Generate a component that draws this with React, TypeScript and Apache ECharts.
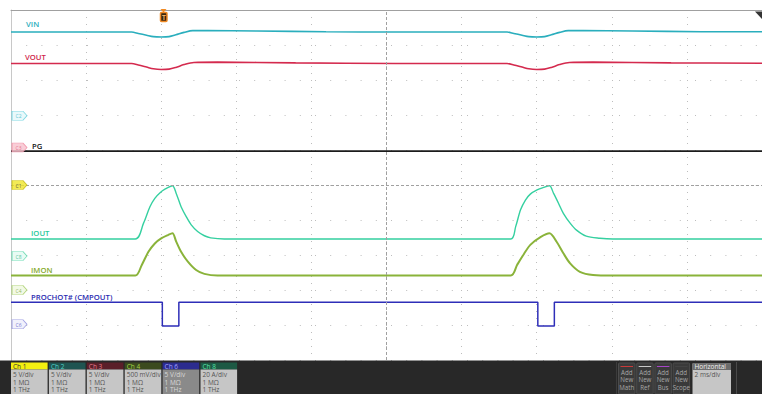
import React, { useEffect, useRef } from "react";
import * as echarts from "echarts";

// Time in ms (2 ms/div, trigger at t = 0); level in screen divisions (0 = bottom, 10 = top)
const VIN: [number, number][] = [
  [-4, 9.37], [-0.79, 9.37], [-0.61, 9.33], [-0.39, 9.28], [-0.21, 9.24], [0, 9.23], [0.21, 9.24],
  [0.39, 9.29], [0.61, 9.36], [0.84, 9.41], [1.24, 9.41], [2.55, 9.4], [4.39, 9.38], [6.24, 9.37],
  [9.21, 9.37], [9.39, 9.33], [9.61, 9.28], [9.79, 9.24], [10, 9.23], [10.21, 9.24], [10.39, 9.29],
  [10.61, 9.36], [10.84, 9.41], [11.24, 9.41], [12.55, 9.4], [14.39, 9.38], [16, 9.38],
];
const VOUT: [number, number][] = [
  [-4, 8.47], [-0.79, 8.47], [-0.61, 8.43], [-0.39, 8.37], [-0.21, 8.32], [0, 8.3], [0.21, 8.31],
  [0.39, 8.36], [0.61, 8.44], [0.87, 8.5], [1.5, 8.51], [3.58, 8.49], [6.24, 8.47],
  [9.21, 8.47], [9.39, 8.43], [9.61, 8.37], [9.79, 8.32], [10, 8.3], [10.21, 8.31], [10.39, 8.36],
  [10.61, 8.44], [10.87, 8.5], [11.5, 8.51], [13.58, 8.49], [16, 8.48],
];
const PG: [number, number][] = [[-4, 5.97], [16, 5.97]];
const IOUT: [number, number][] = [
  [-4, 3.457], [-0.69, 3.457], [-0.47, 3.91], [-0.3, 4.38], [-0.17, 4.62], [-0.03, 4.78], [0.1, 4.88],
  [0.3, 4.98], [0.4, 4.76], [0.53, 4.38], [0.67, 4.09], [0.8, 3.86], [0.97, 3.67], [1.15, 3.55],
  [1.32, 3.49], [1.68, 3.457],
  [9.31, 3.457], [9.44, 3.81], [9.57, 4.29], [9.7, 4.57], [9.83, 4.74], [10.01, 4.86], [10.18, 4.93],
  [10.34, 4.98], [10.45, 4.76], [10.58, 4.48], [10.71, 4.19], [10.89, 3.91], [11.06, 3.71],
  [11.32, 3.54], [11.68, 3.48], [12.03, 3.457], [16, 3.457],
];
const IMON: [number, number][] = [
  [-4, 2.414], [-0.69, 2.414], [-0.52, 2.71], [-0.34, 3.09], [-0.17, 3.33], [0.01, 3.48], [0.18, 3.57],
  [0.3, 3.62], [0.4, 3.38], [0.53, 3.09], [0.71, 2.81], [0.93, 2.57], [1.15, 2.46], [1.5, 2.414],
  [9.31, 2.414], [9.48, 2.72], [9.66, 3.03], [9.83, 3.29], [10.1, 3.51], [10.34, 3.62], [10.53, 3.38],
  [10.71, 3.05], [10.89, 2.76], [11.15, 2.52], [11.5, 2.43], [12.03, 2.414], [16, 2.414],
];
const PROCHOT: [number, number][] = [
  [-4, 1.65], [0.03, 1.65], [0.03, 0.97], [0.47, 0.97], [0.47, 1.65],
  [10.03, 1.65], [10.03, 0.97], [10.47, 0.97], [10.47, 1.65], [16, 1.65],
];

const MARKER_NAMES = ["C2", "C3", "C1", "C8", "C4", "C6"];
const MARKER_LEVELS = [6.98, 6.07, 5.0, 2.97, 2.0, 1.02];

const CH_NAMES = ["Ch 1", "Ch 2", "Ch 3", "Ch 4", "Ch 6", "Ch 8"];
const CH_SCALES = ["5 V/div", "5 V/div", "5 V/div", "500 mV/div", "5 V/div", "20 A/div"];
const CH_IMPEDANCE = ["1 MΩ", "1 MΩ", "1 MΩ", "1 MΩ", "1 MΩ", "1 MΩ"];
const CH_BANDWIDTH = ["1 THz", "1 THz", "1 THz", "1 THz", "1 THz", "1 THz"];
const ADD_BUTTONS = ["Math", "Ref", "Bus", "Scope"];
const HORIZONTAL_SCALE = "2 ms/div";

const FONT = "'Open Sans', 'Noto Sans', sans-serif";

const MARKER_STYLES = [
  { fill: "#e4f8fa", stroke: "#62d0dc", text: "#38b6c6" },
  { fill: "#f8c2cd", stroke: "#f08aa0", text: "#de5c78" },
  { fill: "#efe52a", stroke: "#c2b810", text: "#333333" },
  { fill: "#e4faf1", stroke: "#55d6a8", text: "#2fb486" },
  { fill: "#eff8df", stroke: "#a2cc62", text: "#7ea63e" },
  { fill: "#ededfb", stroke: "#8c8cdc", text: "#5050c0" },
];
const CH_STYLES = [
  { head: "#f3ef10", headText: "#333333", body: "#c6c6c6", bodyText: "#555555" },
  { head: "#1f5451", headText: "#52d2c8", body: "#c6c6c6", bodyText: "#555555" },
  { head: "#5a1f29", headText: "#e47a8a", body: "#c6c6c6", bodyText: "#555555" },
  { head: "#3b4a1f", headText: "#a4d245", body: "#c6c6c6", bodyText: "#555555" },
  { head: "#2c2c8e", headText: "#a0a0ff", body: "#8a8a8a", bodyText: "#d8d8d8" },
  { head: "#1d5944", headText: "#55e0a4", body: "#c6c6c6", bodyText: "#555555" },
];
const BTN_LINE = ["#c83a3a", "#c8c8c8", "#a646c8", "#444444"];

function lineSeries(name: string, data: [number, number][], color: string, width: number, smooth: number | boolean = false, z = 3) {
  return {
    name,
    type: "line",
    data,
    showSymbol: false,
    symbol: "none",
    silent: true,
    smooth,
    z,
    lineStyle: { color, width },
  };
}

export default function App() {
  const ref = useRef<HTMLDivElement>(null);
  useEffect(() => {
    if (!ref.current) return;
    const chart = echarts.init(ref.current, undefined, { renderer: "svg" });

    const g: any[] = [];
    // trace labels
    const labels = [
      { t: "VIN", x: 26, y: 24, c: "#2aaebd" },
      { t: "VOUT", x: 25, y: 57, c: "#d0264b" },
      { t: "PG", x: 32, y: 146, c: "#111111" },
      { t: "IOUT", x: 31, y: 233, c: "#29c99b" },
      { t: "IMON", x: 31, y: 269.5, c: "#86aa2c" },
      { t: "PROCHOT# (CMPOUT)", x: 31, y: 297, c: "#2b2bb0" },
    ];
    labels.forEach((l) =>
      g.push({
        type: "text", x: l.x, y: l.y, z: 20,
        style: { text: l.t, fill: l.c, fontSize: 7.7, fontWeight: 600, fontFamily: FONT, verticalAlign: "middle" },
      })
    );
    // trigger marker
    g.push({ type: "polygon", z: 20, shape: { points: [[160.5, 9], [166.5, 9], [163.5, 12.5]] }, style: { fill: "#f08a24" } });
    g.push({ type: "rect", z: 20, shape: { x: 160.5, y: 12.5, width: 6.5, height: 9, r: 1 }, style: { fill: "#3a2610", stroke: "#f08a24", lineWidth: 1.5 } });
    g.push({ type: "text", z: 21, x: 163.75, y: 17.2, style: { text: "T", fill: "#f3b060", fontSize: 6.5, fontWeight: "bold", fontFamily: FONT, align: "center", verticalAlign: "middle" } });
    // top-right corner wedge
    g.push({ type: "polygon", z: 20, shape: { points: [[755, 11.5], [762, 11.5], [762, 19]] }, style: { fill: "#333333" } });

    // bottom panel
    g.push({ type: "rect", z: 10, shape: { x: 0, y: 360.5, width: 762, height: 34 }, style: { fill: "#282828" } });
    CH_NAMES.forEach((name, i) => {
      const x = 11 + i * 37.9;
      const s = CH_STYLES[i];
      g.push({ type: "rect", z: 11, shape: { x, y: 362.5, width: 36.6, height: 7 }, style: { fill: s.head } });
      g.push({ type: "rect", z: 11, shape: { x, y: 369.5, width: 36.6, height: 25 }, style: { fill: s.body } });
      g.push({ type: "text", z: 12, x: x + 2, y: 366.2, style: { text: name, fill: s.headText, fontSize: 6.5, fontFamily: FONT, verticalAlign: "middle" } });
      [CH_SCALES[i], CH_IMPEDANCE[i], CH_BANDWIDTH[i]].forEach((t, j) =>
        g.push({ type: "text", z: 12, x: x + 2, y: 374.5 + j * 7.5, style: { text: t, fill: s.bodyText, fontSize: 6.5, fontFamily: FONT, verticalAlign: "middle" } })
      );
    });
    g.push({ type: "line", z: 11, shape: { x1: 616.5, y1: 362, x2: 616.5, y2: 394 }, style: { stroke: "#3c3c3c", lineWidth: 1 } });
    ADD_BUTTONS.forEach((b, i) => {
      const x = 618.5 + i * 18.2;
      g.push({ type: "rect", z: 11, shape: { x, y: 363, width: 16.5, height: 31, r: 1 }, style: { fill: "#3a3a3a", stroke: "#4c4c4c", lineWidth: 1 } });
      g.push({ type: "line", z: 12, shape: { x1: x + 2, y1: 366.5, x2: x + 14.5, y2: 366.5 }, style: { stroke: BTN_LINE[i], lineWidth: 1 } });
      ["Add", "New", b].forEach((t, j) =>
        g.push({ type: "text", z: 12, x: x + 8.25, y: 372 + j * 7.6, style: { text: t, fill: "#a8a8a8", fontSize: 6.2, fontFamily: FONT, align: "center", verticalAlign: "middle" } })
      );
    });
    g.push({ type: "rect", z: 11, shape: { x: 692.5, y: 363.5, width: 38.5, height: 31 }, style: { fill: "#c6c6c6" } });
    g.push({ type: "rect", z: 11, shape: { x: 692.5, y: 363.5, width: 38.5, height: 6.5 }, style: { fill: "#6c6c6c" } });
    g.push({ type: "text", z: 12, x: 694.5, y: 366.8, style: { text: "Horizontal", fill: "#f0f0f0", fontSize: 6.5, fontFamily: FONT, verticalAlign: "middle" } });
    g.push({ type: "text", z: 12, x: 694.5, y: 374.5, style: { text: HORIZONTAL_SCALE, fill: "#555555", fontSize: 6.5, fontFamily: FONT, verticalAlign: "middle" } });
    g.push({ type: "line", z: 11, shape: { x1: 736.5, y1: 362, x2: 736.5, y2: 394 }, style: { stroke: "#4a4a4a", lineWidth: 1 } });

    const markerData = MARKER_NAMES.map((n, i) => ({
      value: [-4, MARKER_LEVELS[i]],
      name: n,
      itemStyle: { color: MARKER_STYLES[i].fill, borderColor: MARKER_STYLES[i].stroke, borderWidth: 0.8 },
      label: { color: MARKER_STYLES[i].text },
    }));

    chart.setOption({
      animation: false,
      backgroundColor: "#ffffff",
      grid: { left: 11, top: 10, right: -9, bottom: 34 },
      xAxis: {
        type: "value", min: -4, max: 16, interval: 2, position: "top",
        axisLine: { show: true, onZero: false, lineStyle: { color: "#a0a0a0", width: 1 } },
        axisTick: { show: false }, axisLabel: { show: false },
        splitLine: { show: true, lineStyle: { color: "#bdbdbd", width: 1, type: [1, 6] } },
      },
      yAxis: {
        type: "value", min: 0, max: 10, interval: 1, position: "left",
        axisLine: { show: true, onZero: false, lineStyle: { color: "#c8c8c8", width: 1 } },
        axisTick: { show: false }, axisLabel: { show: false },
        splitLine: { show: true, lineStyle: { color: "#bdbdbd", width: 1, type: [1, 14.2] } },
      },
      series: [
        {
          ...lineSeries("PG", PG, "#1c1c1c", 1.8),
          markLine: {
            silent: true, symbol: ["none", "none"], label: { show: false },
            lineStyle: { color: "#a0a0a0", width: 1, type: [3, 2] },
            data: [{ xAxis: 6 }, { yAxis: 5 }],
          },
        },
        lineSeries("VIN", VIN, "#2aaebd", 1.6, 0.3),
        lineSeries("VOUT", VOUT, "#d42a4e", 1.6, 0.3),
        lineSeries("IOUT", IOUT, "#35d0a0", 1.4, 0.3),
        lineSeries("IMON", IMON, "#8ab33a", 2, 0.3),
        lineSeries("PROCHOT", PROCHOT, "#2e2eb8", 1.5),
        {
          name: "markers", type: "scatter", silent: true, z: 6,
          symbol: "path://M0,0 L11,0 L15,4.5 L11,9 L0,9 Z",
          symbolSize: [15, 9], symbolOffset: [8.5, 0],
          data: markerData,
          label: { show: true, position: "inside", formatter: "{b}", fontSize: 5, fontFamily: FONT, offset: [-1, 0.5] },
        },
      ],
      graphic: g,
    });
    return () => chart.dispose();
  }, []);
  return <div ref={ref} style={{ position: "fixed", left: 0, top: 0, width: 762, height: 394 }} />;
}
